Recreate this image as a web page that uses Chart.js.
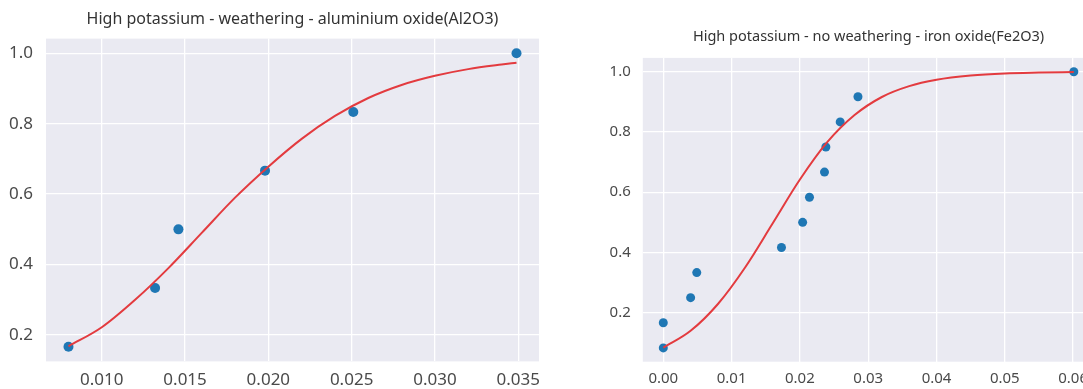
<!DOCTYPE html>
<html>
<head>
<meta charset="utf-8">
<script src="https://cdn.jsdelivr.net/npm/chart.js@4.4.1/dist/chart.umd.min.js"></script>
<style>
    html, body { margin: 0; padding: 0; background: #fff; overflow: hidden; }
    body { width: 1083px; height: 389px; position: relative; }
    canvas { position: absolute; top: 0; }
    #chartLeft { left: 0; }
    #chartRight { left: 580px; }
</style>
</head>
<body>
<canvas id="chartLeft" width="560" height="389"></canvas>
<canvas id="chartRight" width="540" height="389"></canvas>
<script>
// left panel: Al2O3, weathered
const leftTitle = 'High potassium - weathering - aluminium oxide(Al2O3)';
const leftX = [0.0080, 0.0132, 0.0146, 0.0198, 0.0251, 0.0349];
const leftY = [0.1667, 0.3333, 0.5, 0.6667, 0.8333, 1.0];
const leftFitX = [0.0080, 0.010, 0.012, 0.014, 0.016, 0.018, 0.020, 0.022, 0.024, 0.026, 0.028, 0.030, 0.032, 0.034, 0.0349];
const leftFitY = [0.168, 0.222, 0.300, 0.390, 0.490, 0.590, 0.678, 0.757, 0.822, 0.873, 0.910, 0.936, 0.955, 0.968, 0.973];
const leftXTicks = [0.010, 0.015, 0.020, 0.025, 0.030, 0.035];
const leftYTicks = [0.2, 0.4, 0.6, 0.8, 1.0];

// right panel: Fe2O3, not weathered
const rightTitle = 'High potassium - no weathering - iron oxide(Fe2O3)';
const rightX = [0.0, 0.0, 0.0040, 0.0049, 0.0173, 0.0204, 0.0214, 0.0236, 0.0238, 0.0259, 0.0285, 0.0601];
const rightY = [0.0833, 0.1667, 0.25, 0.3333, 0.4167, 0.5, 0.5833, 0.6667, 0.75, 0.8333, 0.9167, 1.0];
const rightFitX = [0.0, 0.004, 0.008, 0.012, 0.016, 0.020, 0.024, 0.028, 0.032, 0.036, 0.040, 0.045, 0.050, 0.055, 0.0601];
const rightFitY = [0.084, 0.140, 0.229, 0.351, 0.496, 0.642, 0.766, 0.856, 0.916, 0.952, 0.973, 0.987, 0.994, 0.997, 0.999];
const rightXTicks = [0.00, 0.01, 0.02, 0.03, 0.04, 0.05, 0.06];
const rightYTicks = [0.2, 0.4, 0.6, 0.8, 1.0];

// seaborn-like panel background + title centred over the plot area (matplotlib style)
const plotDecor = {
    id: 'plotDecor',
    beforeDraw(chart, args, opts) {
        const a = chart.chartArea;
        const ctx = chart.ctx;
        ctx.save();
        ctx.fillStyle = '#eaeaf2';
        ctx.fillRect(a.left, a.top, a.right - a.left, a.bottom - a.top);
        ctx.restore();
    },
    afterDraw(chart, args, opts) {
        const a = chart.chartArea;
        const ctx = chart.ctx;
        ctx.save();
        ctx.fillStyle = '#333333';
        ctx.font = `${opts.size}px 'Noto Sans', 'Open Sans', sans-serif`;
        ctx.textAlign = 'center';
        ctx.textBaseline = 'middle';
        ctx.fillText(opts.text, (a.left + a.right) / 2, opts.y);
        ctx.restore();
    }
};

Chart.defaults.font.family = "'Noto Sans', 'Open Sans', sans-serif";
Chart.defaults.color = '#4a4a4a';

function toPoints(xs, ys) {
    return xs.map((x, i) => ({x: x, y: ys[i]}));
}

function makeChart(params) {
    return new Chart(params.ctx, {
        type: 'scatter',
        data: {
            datasets: [
                {
                    data: toPoints(params.fitX, params.fitY),
                    showLine: true,
                    borderColor: '#e33b3f',
                    borderWidth: 2,
                    pointRadius: 0,
                    cubicInterpolationMode: 'monotone',
                    order: 0
                },
                {
                    data: toPoints(params.x, params.y),
                    backgroundColor: '#1f77b4',
                    borderWidth: 0,
                    pointRadius: params.pointRadius,
                    order: 1
                }
            ]
        },
        options: {
            responsive: false,
            animation: false,
            devicePixelRatio: 1,
            layout: { padding: { left: 0, right: params.padRight, top: params.padTop, bottom: 0 } },
            plugins: {
                legend: { display: false },
                tooltip: { enabled: false },
                title: { display: false },
                plotDecor: { text: params.title, size: params.titleSize, y: params.titleY }
            },
            scales: {
                x: {
                    type: 'linear',
                    min: params.xMin,
                    max: params.xMax,
                    border: { display: false },
                    grid: { color: '#ffffff', lineWidth: 1.3, drawTicks: false },
                    afterBuildTicks: (axis) => { axis.ticks = params.xTicks.map(v => ({value: v})); },
                    afterFit: (axis) => { axis.height = params.xAxisHeight; },
                    ticks: {
                        padding: params.xTickPad,
                        font: { size: params.tickSize },
                        maxRotation: 0,
                        callback: (v) => v.toFixed(params.xDigits)
                    }
                },
                y: {
                    type: 'linear',
                    min: params.yMin,
                    max: params.yMax,
                    border: { display: false },
                    grid: { color: '#ffffff', lineWidth: 1.3, drawTicks: false },
                    afterBuildTicks: (axis) => { axis.ticks = params.yTicks.map(v => ({value: v})); },
                    afterFit: (axis) => { axis.width = params.yAxisWidth; },
                    ticks: {
                        padding: params.yTickPad,
                        font: { size: params.tickSize },
                        callback: (v) => v.toFixed(1)
                    }
                }
            }
        },
        plugins: [plotDecor]
    });
}

makeChart({
    ctx: document.getElementById('chartLeft'),
    title: leftTitle,
    titleSize: 16,
    titleY: 19,
    padTop: 38.6,
    x: leftX, y: leftY, fitX: leftFitX, fitY: leftFitY,
    xTicks: leftXTicks, yTicks: leftYTicks,
    xMin: 0.00665, xMax: 0.03625, yMin: 0.125, yMax: 1.0417,
    xDigits: 3, tickSize: 17, pointRadius: 5,
    yAxisWidth: 46, xAxisHeight: 27.6, padRight: 21,
    xTickPad: 9, yTickPad: 13
});

makeChart({
    ctx: document.getElementById('chartRight'),
    title: rightTitle,
    titleSize: 14.5,
    titleY: 37,
    padTop: 57.9,
    x: rightX, y: rightY, fitX: rightFitX, fitY: rightFitY,
    xTicks: rightXTicks, yTicks: rightYTicks,
    xMin: -0.003, xMax: 0.0631, yMin: 0.0375, yMax: 1.0458,
    xDigits: 2, tickSize: 15, pointRadius: 4.5,
    yAxisWidth: 62.8, xAxisHeight: 27.3, padRight: 25.7,
    xTickPad: 8, yTickPad: 12
});
</script>
</body>
</html>
